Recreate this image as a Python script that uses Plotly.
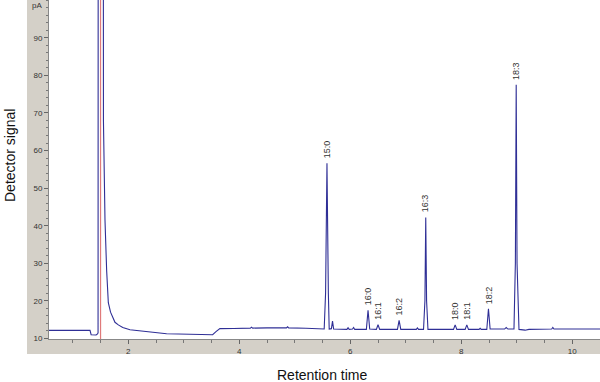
import plotly.graph_objects as go

# --- data ---
time_min = [0.57, 1.0, 1.31, 1.33, 1.42, 1.445, 1.455, 1.458, 1.549, 1.552, 1.58, 1.61, 1.64,
            1.68, 1.72, 1.76, 1.82, 1.90, 2.03, 2.21, 2.40, 2.51, 2.69, 2.9, 3.2, 3.42, 3.47, 3.52,
            3.58, 3.65, 3.9, 4.2, 4.22, 4.24, 4.5, 4.85, 4.87, 4.89, 5.2, 5.5,
            5.53, 5.555, 5.58, 5.605, 5.62, 5.66, 5.68, 5.70, 5.94, 5.96, 5.98, 6.04, 6.06, 6.08,
            6.29, 6.32, 6.35, 6.47, 6.50, 6.53, 6.85, 6.88, 6.91, 7.19, 7.21, 7.23,
            7.32, 7.345, 7.36, 7.375, 7.40, 7.86, 7.89, 7.92, 8.07, 8.10, 8.13, 8.32, 8.34, 8.36,
            8.46, 8.49, 8.52, 8.78, 8.81, 8.84,
            8.95, 8.975, 8.99, 9.005, 9.04, 9.15, 9.22, 9.63, 9.65, 9.67, 10.5]
signal_pA = [12.15, 12.15, 12.15, 11.0, 10.9, 11.2, 11.5, 150, 150, 68, 41.5, 28, 19.5,
             17.0, 15.5, 14.3, 13.6, 12.9, 12.3, 12.0, 11.75, 11.6, 11.25, 11.2, 11.15, 11.15, 10.95, 11.0,
             11.8, 12.6, 12.65, 12.75, 13.0, 12.75, 12.8, 12.8, 13.1, 12.8, 12.7, 12.55,
             12.5, 22, 56.6, 22, 12.5, 12.6, 14.6, 12.5, 12.4, 12.85, 12.4, 12.5, 12.9, 12.4,
             12.4, 17.5, 12.5, 12.4, 13.65, 12.4, 12.4, 14.8, 12.4, 12.4, 12.8, 12.4,
             12.4, 20, 42.2, 20, 12.4, 12.4, 13.6, 12.4, 12.4, 13.6, 12.4, 12.4, 12.7, 12.4,
             12.4, 17.9, 12.5, 12.5, 12.9, 12.5,
             12.5, 30, 77.5, 30, 12.4, 12.2, 12.4, 12.5, 12.9, 12.5, 12.5]

peak_labels = ["15:0", "16:0", "16:1", "16:2", "16:3", "18:0", "18:1", "18:2", "18:3"]
peak_times = [5.58, 6.32, 6.50, 6.88, 7.36, 7.89, 8.10, 8.49, 8.99]
peak_heights = [56.6, 17.5, 13.65, 14.8, 42.2, 13.6, 13.6, 17.9, 77.5]

solvent_marker_time = 1.50
x_tick_vals = [2, 4, 6, 8, 10]
y_tick_vals = [10, 20, 30, 40, 50, 60, 70, 80, 90]

fig = go.Figure()
fig.add_trace(go.Scatter(x=[solvent_marker_time, solvent_marker_time], y=[0, 200],
                         mode="lines", line=dict(color="#e07a7a", width=1.2),
                         hoverinfo="skip", showlegend=False))
fig.add_trace(go.Scatter(x=time_min, y=signal_pA, mode="lines",
                         line=dict(color="#2f2f96", width=1.1), showlegend=False))

for lab, t, h in zip(peak_labels, peak_times, peak_heights):
    fig.add_annotation(x=t, y=h, text=lab, textangle=-90, showarrow=False,
                       xanchor="center", yanchor="bottom", yshift=3,
                       font=dict(family="Liberation Sans, Arial", size=9, color="#333333"))

grey = "#d4d0c8"
fig.add_shape(type="rect", xref="paper", yref="paper", x0=-22/551, x1=0, y0=-15/339, y1=1,
              fillcolor=grey, line_width=0, layer="below")
fig.add_shape(type="rect", xref="paper", yref="paper", x0=-22/551, x1=1, y0=-15/339, y1=0,
              fillcolor=grey, line_width=0, layer="below")

fig.add_annotation(xref="paper", yref="y", x=0, y=98.7, text="pA", showarrow=False,
                   xanchor="right", xshift=-5,
                   font=dict(family="Liberation Sans, Arial", size=8, color="#333333"))
fig.add_annotation(xref="paper", yref="paper", x=-39/551, y=(339-156)/339, text="Detector signal",
                   textangle=-90, showarrow=False, xanchor="center", yanchor="middle",
                   font=dict(family="Liberation Sans, Arial", size=14, color="#111111"))
fig.add_annotation(xref="paper", yref="paper", x=(322-49)/551, y=-36/339, text="Retention time",
                   showarrow=False, xanchor="center", yanchor="middle",
                   font=dict(family="Liberation Sans, Arial", size=14, color="#111111"))

fig.update_xaxes(range=[0.571, 10.5], tickvals=x_tick_vals, ticks="outside", ticklen=4,
                 tickcolor="#666666", showgrid=False, zeroline=False, showline=True,
                 linecolor="#888888", linewidth=1,
                 minor=dict(dtick=0.5, ticks="outside", ticklen=3, tickcolor="#777777", showgrid=False),
                 tickfont=dict(family="Liberation Sans, Arial", size=8, color="#333333"))
fig.update_yaxes(range=[9.85, 100.05], tickvals=y_tick_vals, ticks="outside", ticklen=4,
                 tickcolor="#666666", showgrid=False, zeroline=False, showline=True,
                 linecolor="#888888", linewidth=1,
                 minor=dict(dtick=2, ticks="outside", ticklen=2, tickcolor="#777777", showgrid=False),
                 tickfont=dict(family="Liberation Sans, Arial", size=8, color="#333333"))

fig.update_layout(width=600, height=382, margin=dict(l=49, r=0, t=0, b=43),
                  paper_bgcolor="white", plot_bgcolor="white", showlegend=False)
fig.write_html("out.html", config={"displayModeBar": False},
               post_script="document.body.style.margin='0';document.body.style.overflow='hidden';")
